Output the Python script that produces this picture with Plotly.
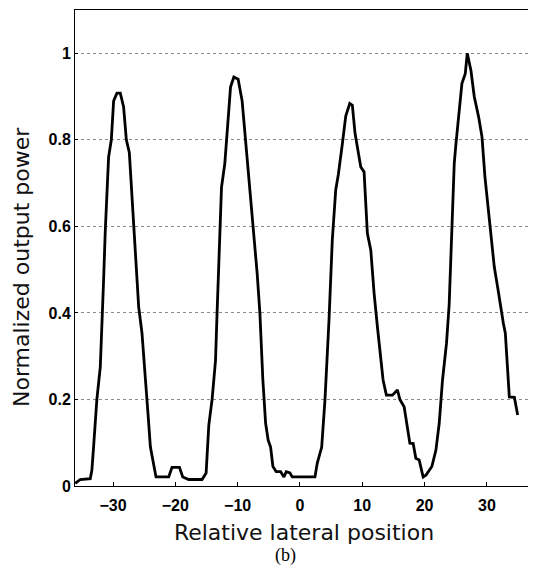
import plotly.graph_objects as go

x_pos = [-36.06, -35.26, -33.65, -33.39, -33.12, -32.59, -32.04, -31.78, -31.51, -31.24,
         -30.71, -30.27, -29.90, -29.37, -28.83, -28.30, -27.86, -27.38, -26.85, -26.32,
         -25.88, -25.35, -24.81, -24.39, -24.00, -23.63, -23.10, -21.06, -20.53, -19.34,
         -18.81, -17.85, -15.71, -15.06, -14.63, -14.10, -13.55, -13.30, -12.91, -12.59,
         -12.06, -11.69, -11.14, -10.61, -9.92, -9.28, -8.73, -7.93, -7.40, -6.86,
         -6.43, -5.95, -5.51, -5.10, -4.71, -4.34, -3.81, -3.10, -2.57, -2.20,
         -1.61, -1.24, 2.41, 2.78, 3.49, 4.02, 4.66, 5.19, 5.74, 6.16,
         6.80, 7.35, 7.99, 8.41, 8.84, 9.37, 9.76, 10.29, 10.56, 10.82,
         11.37, 11.90, 12.43, 12.97, 13.34, 13.87, 14.84, 15.64, 16.03, 16.72,
         17.25, 17.64, 18.17, 18.60, 19.13, 19.77, 20.21, 21.17, 21.82, 22.35,
         22.88, 23.52, 23.95, 24.39, 24.76, 25.03, 25.45, 25.99, 26.53, 26.85,
         27.44, 27.97, 28.67, 29.21, 29.69, 30.11, 30.66, 31.19, 31.72, 32.27,
         32.64, 32.96, 33.33, 33.60, 34.41, 34.94]
power = [0.006, 0.015, 0.017, 0.037, 0.09, 0.2, 0.275, 0.40, 0.476, 0.59,
         0.76, 0.80, 0.89, 0.908, 0.908, 0.876, 0.80, 0.77, 0.645, 0.52,
         0.414, 0.353, 0.26, 0.168, 0.09, 0.06, 0.021, 0.021, 0.043, 0.043,
         0.021, 0.015, 0.015, 0.03, 0.14, 0.2, 0.29, 0.40, 0.584, 0.69,
         0.745, 0.82, 0.922, 0.945, 0.94, 0.89, 0.80, 0.68, 0.59, 0.49,
         0.40, 0.245, 0.145, 0.106, 0.09, 0.045, 0.033, 0.033, 0.021, 0.033,
         0.03, 0.021, 0.021, 0.053, 0.09, 0.2, 0.383, 0.568, 0.684, 0.72,
         0.79, 0.855, 0.884, 0.88, 0.815, 0.768, 0.737, 0.726, 0.645, 0.584,
         0.545, 0.445, 0.368, 0.29, 0.245, 0.21, 0.21, 0.222, 0.2, 0.183,
         0.137, 0.099, 0.098, 0.064, 0.06, 0.021, 0.025, 0.045, 0.083, 0.145,
         0.245, 0.33, 0.42, 0.599, 0.745, 0.79, 0.845, 0.93, 0.953, 1.0,
         0.96, 0.9, 0.853, 0.807, 0.714, 0.66, 0.576, 0.506, 0.46, 0.406,
         0.376, 0.353, 0.276, 0.206, 0.205, 0.164]

x_ticks = [-30, -20, -10, 0, 10, 20, 30]
y_ticks = [0, 0.2, 0.4, 0.6, 0.8, 1]
y_tick_labels = ["0", "0.2", "0.4", "0.6", "0.8", "1"]

fig = go.Figure()
fig.add_trace(go.Scatter(x=x_pos, y=power, mode="lines",
                         line=dict(color="black", width=2.8), showlegend=False))

tick_font = dict(family="Liberation Sans, Arial, sans-serif", size=16, color="black", weight="bold")
title_font = dict(family="DejaVu Sans, sans-serif", size=22, color="#111111")

# the page body adds an 8px offset; margins compensate so the plot box lands at x 75..533, y 10..486
fig.update_layout(
    width=536, height=573,
    margin=dict(l=67, r=11, t=2, b=95),
    plot_bgcolor="white", paper_bgcolor="white",
    xaxis=dict(range=[-36.1, 37.4], tickvals=x_ticks, ticks="inside", ticklen=4,
               tickcolor="black", showgrid=False, zeroline=False, automargin=False,
               showline=True, linecolor="black", linewidth=1, mirror=True,
               tickfont=tick_font, ticklabelstandoff=5,
               title=dict(text="Relative lateral position", font=title_font, standoff=11)),
    yaxis=dict(range=[0, 1.1], tickvals=y_ticks, ticktext=y_tick_labels, ticks="inside",
               ticklen=3, tickcolor="black", showgrid=True, gridcolor="#8a8a8a",
               griddash="dot", gridwidth=1, zeroline=False, automargin=False,
               showline=True, linecolor="black", linewidth=1, mirror=True,
               tickfont=tick_font),
    annotations=[
        dict(text="Normalized output power", x=-0.118, y=0.46, xref="paper", yref="paper",
             textangle=-90, showarrow=False, xanchor="center", yanchor="middle",
             font=title_font),
        dict(text="(b)", x=0.46, y=-0.147, xref="paper", yref="paper",
             showarrow=False, xanchor="center", yanchor="middle",
             font=dict(family="Liberation Serif, Times New Roman, serif", size=18, color="black"))],
)

fig.write_html("out.html")
